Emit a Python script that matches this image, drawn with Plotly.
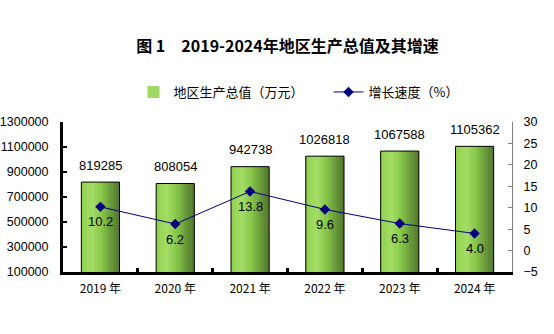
import plotly.graph_objects as go

# Regional GDP (10k yuan) and growth rate (%), 2019-2024
years = ["2019 年", "2020 年", "2021 年", "2022 年", "2023 年", "2024 年"]
gdp = [819285, 808054, 942738, 1026818, 1067588, 1105362]
growth = [10.2, 6.2, 13.8, 9.6, 6.3, 4.0]

left_ticks = [100000, 300000, 500000, 700000, 900000, 1100000, 1300000]
right_ticks = [-5, 0, 5, 10, 15, 20, 25, 30]

NUM_FONT = "Liberation Sans, Arial, sans-serif"
CJK_FONT = "Noto Sans CJK SC, sans-serif"

# horizontal gradient stops for the bars (left -> right)
stops = [(0.0, (0x8E, 0xCF, 0x4C)), (0.3, (0xA4, 0xDD, 0x66)), (0.55, (0x86, 0xC6, 0x48)),
         (0.8, (0x68, 0x98, 0x3A)), (1.0, (0x55, 0x76, 0x30))]


def grad(t):
    for (t0, c0), (t1, c1) in zip(stops[:-1], stops[1:]):
        if t0 <= t <= t1:
            f = (t - t0) / (t1 - t0)
            return "rgb(%d,%d,%d)" % tuple(round(a + (b - a) * f) for a, b in zip(c0, c1))
    return "rgb(%d,%d,%d)" % stops[-1][1]


BAR_W = 0.51
N_STRIPS = 24
strip_w = BAR_W / N_STRIPS

fig = go.Figure()

for k in range(N_STRIPS):
    fig.add_trace(go.Bar(
        x=years, y=gdp, base=0,
        offset=-BAR_W / 2 + k * strip_w, width=strip_w * 1.05,
        marker=dict(color=grad((k + 0.5) / N_STRIPS), line=dict(width=0)),
        showlegend=(k == N_STRIPS // 3), name="地区生产总值（万元）",
        legendrank=1, hoverinfo="skip",
    ))

# outline of each bar
fig.add_trace(go.Bar(
    x=years, y=gdp, offset=-BAR_W / 2, width=BAR_W,
    marker=dict(color="rgba(0,0,0,0)", line=dict(color="black", width=1)),
    showlegend=False, hoverinfo="skip",
))

fig.add_trace(go.Scatter(
    x=years, y=growth, yaxis="y2", mode="lines+markers",
    line=dict(color="#000080", width=1),
    marker=dict(symbol="diamond", size=8, color="#000080"),
    name="增长速度（%）", legendrank=2,
))

annotations = []
for x, v in zip(years, gdp):
    annotations.append(dict(x=x, y=v, xref="x", yref="y", text=str(v), showarrow=False,
                            yshift=17, font=dict(family=NUM_FONT, size=13, color="black")))
for x, v in zip(years, growth):
    annotations.append(dict(x=x, y=v, xref="x", yref="y2", text="%.1f" % v, showarrow=False,
                            yshift=-15, font=dict(family=NUM_FONT, size=13, color="black")))

fig.update_layout(
    width=554, height=334,
    margin=dict(l=63, r=42, t=122, b=62),
    paper_bgcolor="white", plot_bgcolor="white",
    barmode="overlay",
    title=dict(text="<b>图 1　2019-2024年地区生产总值及其增速</b>", x=0.5, xref="paper",
               xanchor="center", y=1 - 46 / 334, yref="container", yanchor="middle",
               font=dict(family=CJK_FONT, size=16, color="black")),
    legend=dict(orientation="h", x=0.157, xanchor="left", y=1.2, yanchor="middle",
                font=dict(family=CJK_FONT, size=13, color="black"),
                entrywidth=150, entrywidthmode="pixels", bgcolor="rgba(0,0,0,0)"),
    xaxis=dict(type="category", showline=True, linecolor="black", linewidth=3,
               ticks="inside", tickson="boundaries", ticklen=4, tickwidth=3, tickcolor="black",
               showgrid=False, automargin=False, ticklabelstandoff=4,
               tickfont=dict(family=CJK_FONT, size=12, color="black")),
    yaxis=dict(range=[100000, 1300000], tickvals=left_ticks,
               ticktext=[str(v) for v in left_ticks], showline=True,
               linecolor="black", linewidth=3, ticks="inside", ticklen=4, tickwidth=2,
               tickcolor="black", showgrid=False, zeroline=False, ticklabelstandoff=9,
               automargin=False,
               tickfont=dict(family=NUM_FONT, size=12.5, color="black")),
    yaxis2=dict(range=[-5, 30], tickvals=right_ticks, overlaying="y", side="right",
                showline=True, linecolor="#808080", linewidth=1, ticks="inside",
                ticklen=4, tickcolor="#808080", showgrid=False, zeroline=False,
                ticklabelstandoff=8, automargin=False,
                tickfont=dict(family=NUM_FONT, size=12.5, color="black")),
    annotations=annotations,
)

fig.write_html("out.html")
